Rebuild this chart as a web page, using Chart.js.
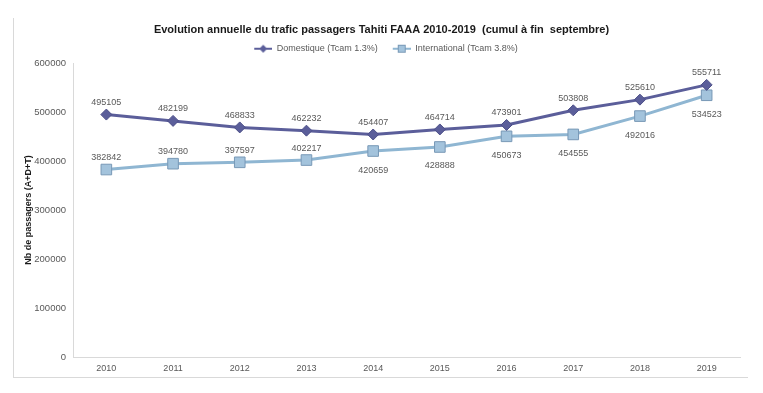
<!DOCTYPE html>
<html lang="fr">
<head>
<meta charset="UTF-8">
<title>Trafic passagers Tahiti FAAA</title>
<script src="https://cdn.jsdelivr.net/npm/chart.js@4/dist/chart.umd.min.js"></script>
<style>
    html, body { margin: 0; padding: 0; background: #fff; }
    #wrap { position: relative; width: 763px; height: 393px; }
    #frame { position: absolute; left: 13px; top: 18px; width: 735px; height: 360px;
             border-left: 1px solid #d9d9d9; border-bottom: 1px solid #d9d9d9; box-sizing: border-box; }
    #trafic { position: absolute; left: 0; top: 0; }
</style>
</head>
<body>
<div id="wrap">
    <div id="frame"></div>
    <canvas id="trafic" width="763" height="393"></canvas>
</div>
<script>
    const years = ['2010', '2011', '2012', '2013', '2014', '2015', '2016', '2017', '2018', '2019'];
    const domestique = [495105, 482199, 468833, 462232, 454407, 464714, 473901, 503808, 525610, 555711];
    const international = [382842, 394780, 397597, 402217, 420659, 428888, 450673, 454555, 492016, 534523];
    // where each value label sits relative to its point
    const domLabelPos = ['above', 'above', 'above', 'above', 'above', 'above', 'above', 'above', 'above', 'above'];
    const intLabelPos = ['above', 'above', 'above', 'above', 'below', 'below', 'below', 'below', 'below', 'below'];

    const domColor = '#5b5e9a';
    const intColor = '#8fb6d2';
    const textColor = '#595959';
    const axisColor = '#d9d9d9';
    const font = "'Liberation Sans', Arial, sans-serif";

    // line+marker icons for the legend, with some blank space on the left
    function legendIcon(color, kind) {
        const c = document.createElement('canvas');
        c.width = 27; c.height = 10;
        const g = c.getContext('2d');
        g.strokeStyle = color;
        g.lineWidth = 2;
        g.beginPath(); g.moveTo(9, 5); g.lineTo(27, 5); g.stroke();
        if (kind === 'diamond') {
            g.fillStyle = color;
            g.beginPath(); g.moveTo(18, 1); g.lineTo(22, 5); g.lineTo(18, 9); g.lineTo(14, 5); g.closePath(); g.fill();
        } else {
            g.fillStyle = '#a3c3dc';
            g.strokeStyle = '#7898b6';
            g.lineWidth = 1;
            g.fillRect(14.5, 1.5, 7, 7); g.strokeRect(14.5, 1.5, 7, 7);
        }
        return c;
    }

    const valueLabels = {
        id: 'valueLabels',
        afterDatasetsDraw(chart) {
            const ctx = chart.ctx;
            ctx.save();
            ctx.font = '9px ' + font;
            ctx.fillStyle = textColor;
            ctx.textAlign = 'center';
            ctx.textBaseline = 'middle';
            chart.data.datasets.forEach((ds, i) => {
                const meta = chart.getDatasetMeta(i);
                meta.data.forEach((pt, j) => {
                    const dy = ds.labelPos[j] === 'above' ? -12 : 19;
                    ctx.fillText(String(ds.data[j]), pt.x, pt.y + dy);
                });
            });
            ctx.restore();
        }
    };

    new Chart(document.getElementById('trafic'), {
        type: 'line',
        data: {
            labels: years,
            datasets: [{
                label: 'Domestique (Tcam 1.3%)',
                data: domestique,
                labelPos: domLabelPos,
                borderColor: domColor,
                backgroundColor: domColor,
                borderWidth: 3,
                pointStyle: 'rectRot',
                pointRadius: 5.5,
                pointBorderWidth: 1,
                pointBackgroundColor: domColor,
                pointBorderColor: '#4d5088',
                legendIcon: legendIcon(domColor, 'diamond'),
                tension: 0
            }, {
                label: 'International (Tcam 3.8%)',
                data: international,
                labelPos: intLabelPos,
                borderColor: intColor,
                backgroundColor: intColor,
                borderWidth: 3,
                pointStyle: 'rect',
                pointRadius: 7.5,
                pointBorderWidth: 1,
                pointBackgroundColor: '#a3c3dc',
                pointBorderColor: '#7898b6',
                legendIcon: legendIcon(intColor, 'square'),
                tension: 0
            }]
        },
        options: {
            responsive: false,
            animation: false,
            layout: { padding: { left: 0, right: 0, top: 0, bottom: 0 } },
            plugins: {
                title: {
                    display: true,
                    text: 'Evolution annuelle du trafic passagers Tahiti FAAA 2010-2019  (cumul à fin  septembre)',
                    color: '#1a1a1a',
                    font: { family: font, size: 11, weight: 'bold' },
                    padding: { top: 23, bottom: 2 }
                },
                legend: {
                    labels: {
                        color: textColor,
                        font: { family: font, size: 9 },
                        usePointStyle: true,
                        pointStyleWidth: 27,
                        boxHeight: 9,
                        padding: 6,
                        generateLabels(chart) {
                            return chart.data.datasets.map((ds, i) => ({
                                text: ds.label,
                                pointStyle: ds.legendIcon,
                                fillStyle: ds.borderColor,
                                strokeStyle: ds.borderColor,
                                fontColor: textColor,
                                lineWidth: 0,
                                datasetIndex: i
                            }));
                        }
                    }
                },
                tooltip: { enabled: false }
            },
            scales: {
                x: {
                    offset: true,
                    grid: { display: false, drawTicks: false, tickLength: 0 },
                    border: { color: axisColor, width: 1 },
                    ticks: { color: textColor, font: { family: font, size: 9 }, padding: 6 },
                    afterFit(scale) { scale.height = 36; }
                },
                y: {
                    min: 0,
                    max: 600000,
                    grid: { display: false, drawTicks: false, tickLength: 0 },
                    border: { color: axisColor, width: 1 },
                    ticks: {
                        stepSize: 100000, color: textColor, font: { family: font, size: 9.5 }, padding: 7,
                        callback: v => String(v)
                    },
                    title: {
                        display: true,
                        text: 'Nb de passagers (A+D+T)',
                        color: '#1a1a1a',
                        font: { family: font, size: 9, weight: 'bold' },
                        padding: { top: 23, bottom: 0 }
                    },
                    afterFit(scale) { scale.width = 73; }
                },
                // empty right-hand strip so the plot ends where the reference does
                yRight: {
                    position: 'right',
                    grid: { display: false },
                    border: { display: false },
                    ticks: { display: false },
                    afterFit(scale) { scale.width = 23; }
                }
            }
        },
        plugins: [valueLabels]
    });
</script>
</body>
</html>
